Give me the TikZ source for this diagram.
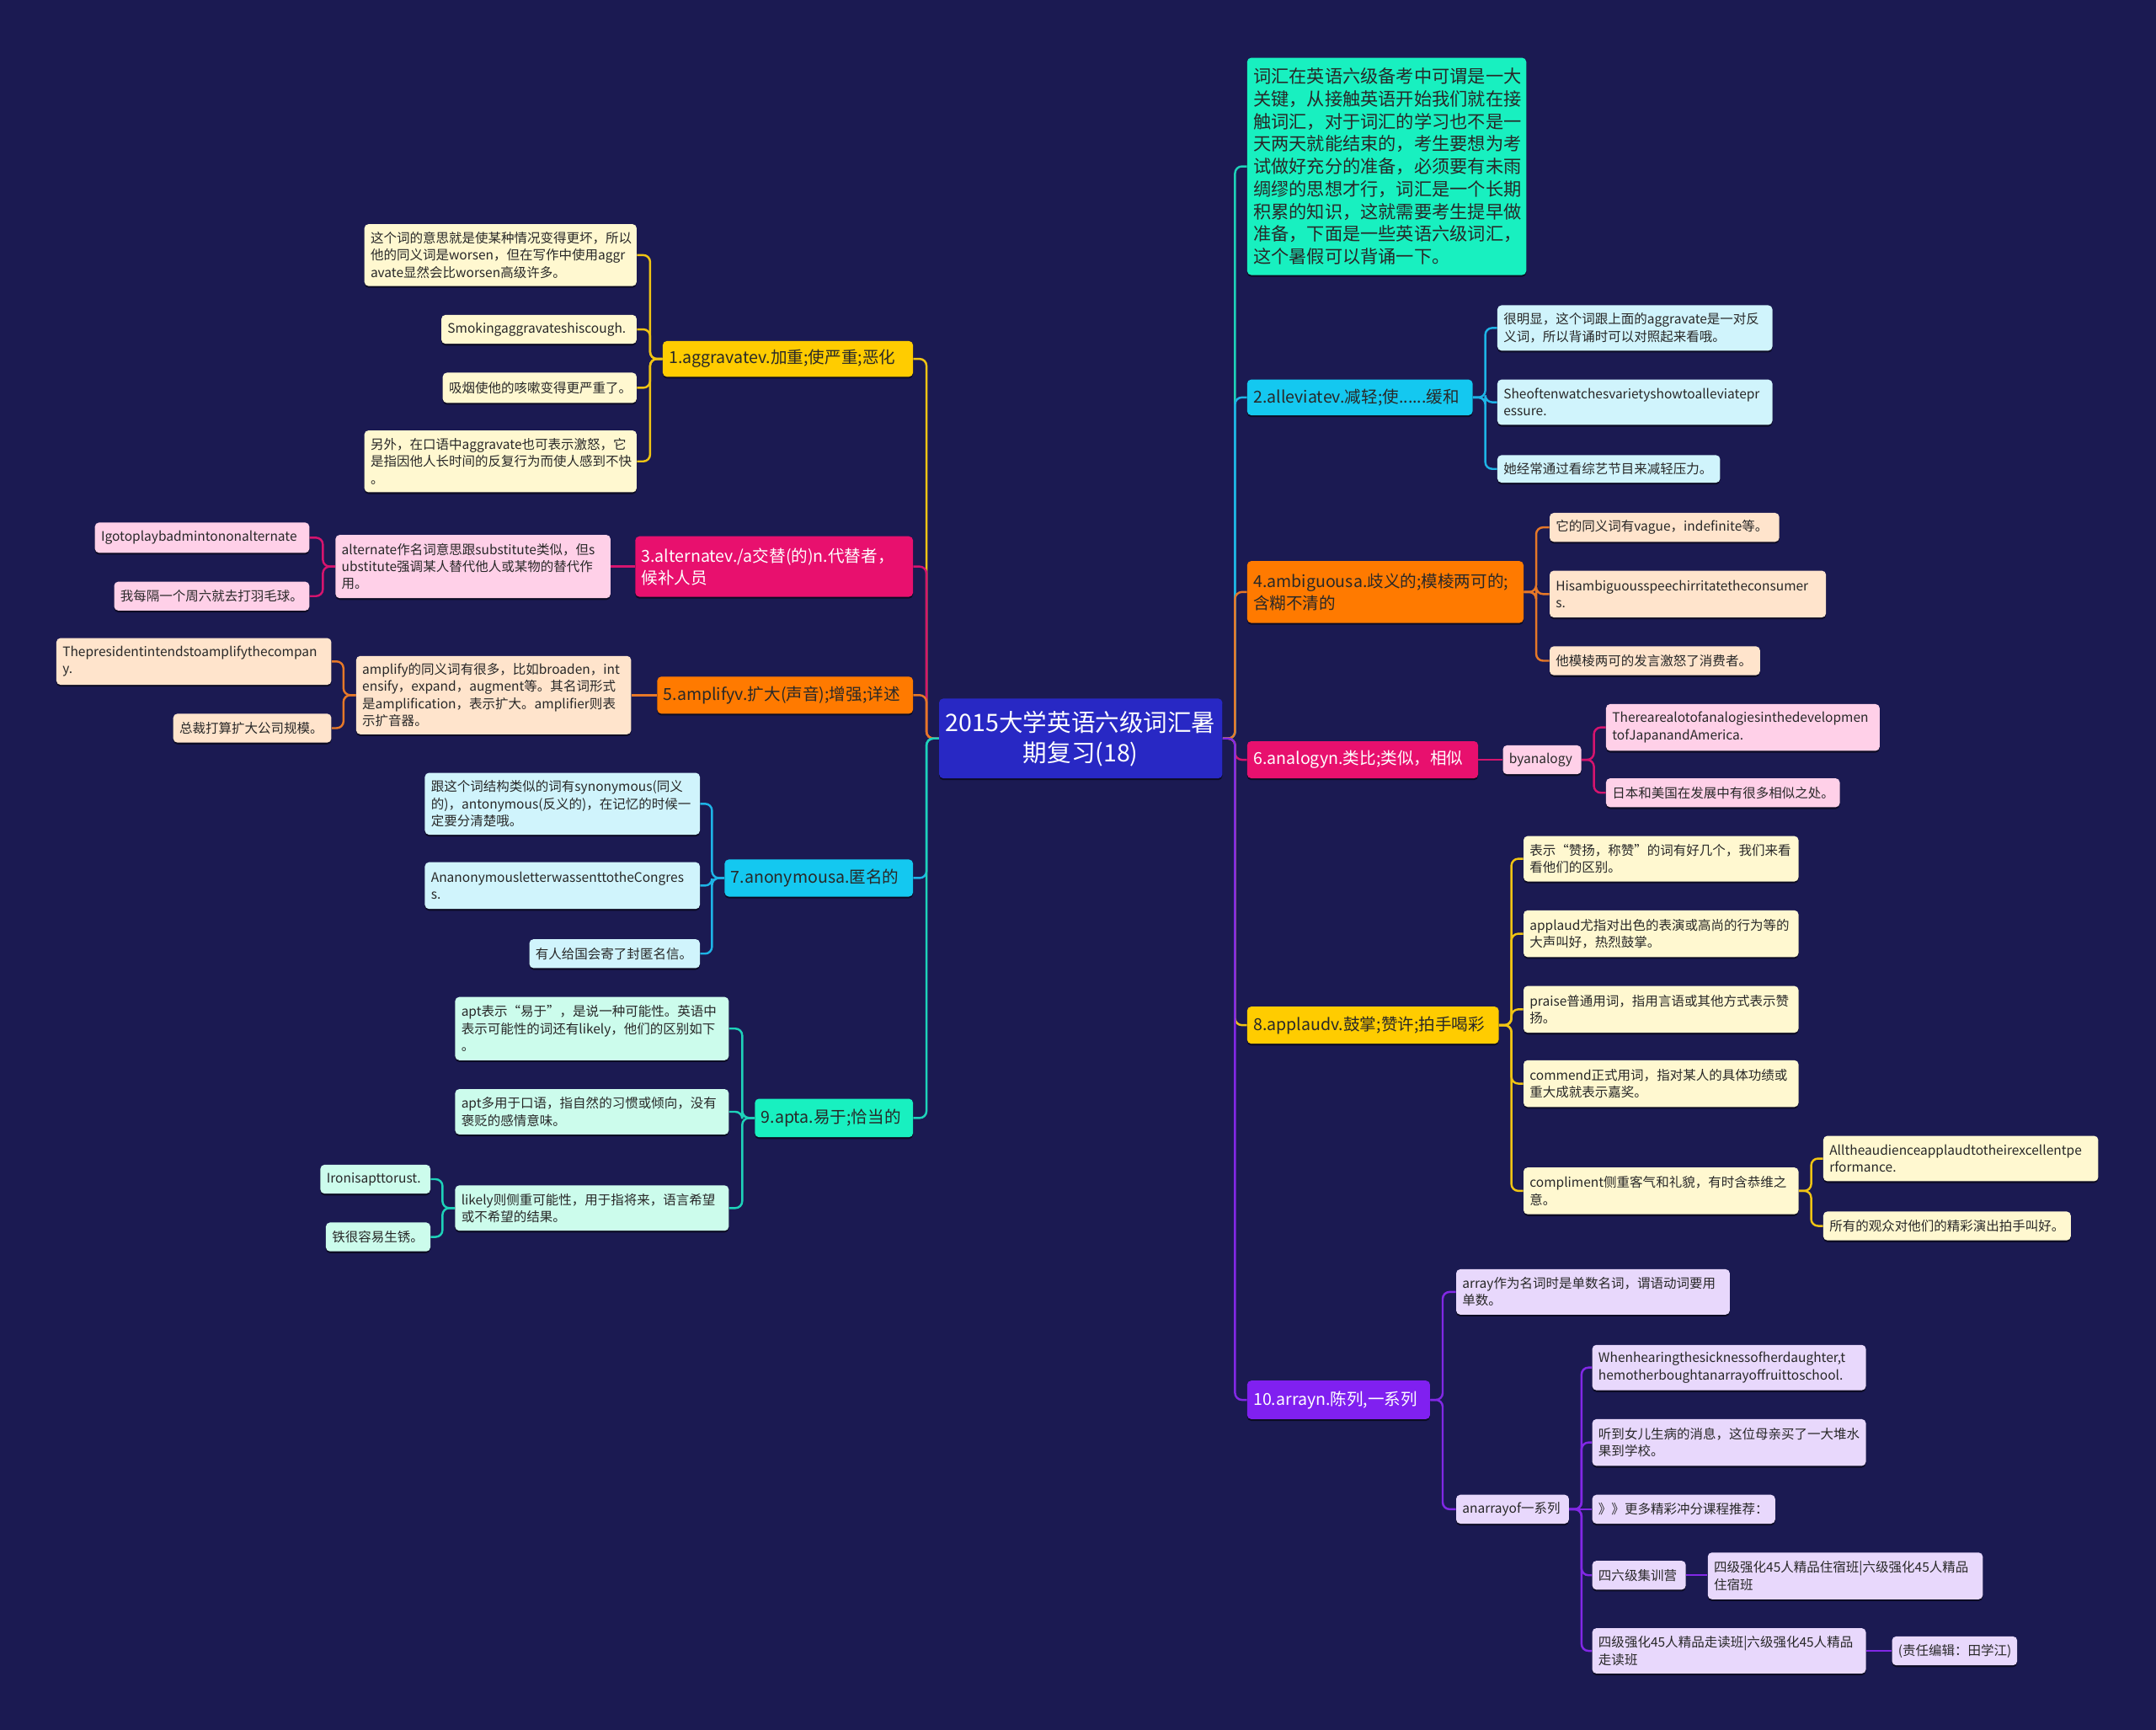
\documentclass[tikz,border=0pt]{standalone}
\usepackage{fontspec}
\setmainfont{Noto Sans CJK SC}
\usetikzlibrary{shadows}
\pgfdeclarelayer{bg}\pgfsetlayers{bg,main}
\definecolor{bgc}{RGB}{27,26,82}
\definecolor{rootc}{RGB}{40,40,196}
\definecolor{darktext}{RGB}{40,40,40}
\definecolor{ybr}{RGB}{255,204,0}\definecolor{ylf}{RGB}{255,248,208}\definecolor{ycl}{RGB}{240,196,20}
\definecolor{mbr}{RGB}{232,16,110}\definecolor{mlf}{RGB}{255,208,232}\definecolor{mcl}{RGB}{214,20,110}
\definecolor{obr}{RGB}{255,122,0}\definecolor{olf}{RGB}{255,228,204}\definecolor{ocl}{RGB}{230,120,40}
\definecolor{cbr}{RGB}{20,200,240}\definecolor{clf}{RGB}{208,244,252}\definecolor{ccl}{RGB}{30,180,230}
\definecolor{abr}{RGB}{24,240,192}\definecolor{alf}{RGB}{204,252,236}\definecolor{acl}{RGB}{30,210,185}
\definecolor{pbr}{RGB}{128,32,240}\definecolor{plf}{RGB}{232,216,252}\definecolor{pcl}{RGB}{130,40,230}
\newcommand\mybox[7]{%
  \pgfmathsetmacro\bxw{#4-#2}%
  \pgfmathsetmacro\bxh{#5-#3}%
  \pgfmathsetmacro\bxtw{#4-#2-9}%
  \pgfmathsetmacro\bxcx{(#2+#4)/2}%
  \pgfmathsetmacro\bxcy{(#3+#5)/2}%
  \node[#6, minimum width=\bxw pt, minimum height=\bxh pt, text width=\bxtw pt] (#1) at (\bxcx,\bxcy) {#7};}
\newcommand\connL[3]{\draw[conn,#1] (#2.west) -- ++(-9,0) |- (#3.east);}
\newcommand\connR[3]{\draw[conn,#1] (#2.east) -- ++(9,0) |- (#3.west);}
\newcommand\connSL[3]{\draw[conn,#1] (#2.west) -- (#3.east |- #2.west);}
\newcommand\connSR[3]{\draw[conn,#1] (#2.east) -- (#3.west |- #2.east);}
\begin{document}
\begin{tikzpicture}[x=1pt,y=-1pt,
  basebox/.style={rounded corners=3pt, inner xsep=4.5pt, inner ysep=0pt, align=left,
    drop shadow={shadow xshift=0pt,shadow yshift=-1.3pt,opacity=.55,fill=black}},
  leaf/.style={basebox, text=darktext, font=\fontsize{9.5}{12.5}\selectfont},
  branch/.style={basebox, text=darktext, font=\fontsize{12}{16}\selectfont},
  wbranch/.style={branch, text=white},
  rootbox/.style={basebox, align=center, text=white, fill=rootc, font=\fontsize{17.5}{22}\selectfont},
  intro/.style={basebox, text=darktext, fill=abr, font=\fontsize{13}{16.4}\selectfont},
  conn/.style={line width=1.5pt, rounded corners=5pt}]
\useasboundingbox (0,0) rectangle (1568,1258);
% root
\mybox{root}{683}{508}{889}{566}{rootbox}{2015大学英语六级词汇暑\\期复习(18)}
% left branches
\mybox{b1}{482}{248}{664}{274}{branch,fill=ybr}{1.aggravatev.加重;使严重;恶化}
\mybox{b3}{462}{390}{664}{434}{wbranch,fill=mbr}{3.alternatev./a交替(的)n.代替者，\\候补人员}
\mybox{b5}{478}{492}{664}{519}{branch,fill=obr}{5.amplifyv.扩大(声音);增强;详述}
\mybox{b7}{527}{625}{664}{652}{branch,fill=cbr}{7.anonymousa.匿名的}
\mybox{b9}{549}{799}{664}{827}{branch,fill=abr}{9.apta.易于;恰当的}
% right branches
\mybox{intro}{907}{42}{1110}{200}{intro}{词汇在英语六级备考中可谓是一大\\关键，从接触英语开始我们就在接\\触词汇，对于词汇的学习也不是一\\天两天就能结束的，考生要想为考\\试做好充分的准备，必须要有未雨\\绸缪的思想才行，词汇是一个长期\\积累的知识，这就需要考生提早做\\准备，下面是一些英语六级词汇，\\这个暑假可以背诵一下。}
\mybox{b2}{907}{276}{1071}{302}{branch,fill=cbr}{2.alleviatev.减轻;使......缓和}
\mybox{b4}{907}{408}{1108}{453}{branch,fill=obr}{4.ambiguousa.歧义的;模棱两可的;\\含糊不清的}
\mybox{b6}{907}{539}{1075}{566}{wbranch,fill=mbr}{6.analogyn.类比;类似，相似}
\mybox{b8}{907}{732}{1090}{759}{branch,fill=ybr}{8.applaudv.鼓掌;赞许;拍手喝彩}
\mybox{b10}{907}{1004}{1040}{1032}{wbranch,fill=pbr}{10.arrayn.陈列,一系列}
% group 1
\mybox{l1a}{265}{163}{463}{208}{leaf,fill=ylf}{这个词的意思就是使某种情况变得更坏，所以\\他的同义词是worsen，但在写作中使用aggr\\avate显然会比worsen高级许多。}
\mybox{l1b}{321}{229}{463}{250}{leaf,fill=ylf}{Smokingaggravateshiscough.}
\mybox{l1c}{322}{271}{463}{293}{leaf,fill=ylf}{吸烟使他的咳嗽变得更严重了。}
\mybox{l1d}{265}{313}{463}{358}{leaf,fill=ylf}{另外，在口语中aggravate也可表示激怒，它\\是指因他人长时间的反复行为而使人感到不快\\。}
% group 3
\mybox{l3a}{244}{389}{444}{435}{leaf,fill=mlf}{alternate作名词意思跟substitute类似，但s\\ubstitute强调某人替代他人或某物的替代作\\用。}
\mybox{l3b}{69}{380}{225}{402}{leaf,fill=mlf}{Igotoplaybadmintononalternate}
\mybox{l3c}{83}{423}{225}{444}{leaf,fill=mlf}{我每隔一个周六就去打羽毛球。}
% group 5
\mybox{l5a}{259}{477}{459}{534}{leaf,fill=olf}{amplify的同义词有很多，比如broaden，int\\ensify，expand，augment等。其名词形式\\是amplification，表示扩大。amplifier则表\\示扩音器。}
\mybox{l5b}{41}{464}{241}{498}{leaf,fill=olf}{Thepresidentintendstoamplifythecompan\\y.}
\mybox{l5c}{126}{519}{241}{540}{leaf,fill=olf}{总裁打算扩大公司规模。}
% group 7
\mybox{l7a}{309}{562}{509}{607}{leaf,fill=clf}{跟这个词结构类似的词有synonymous(同义\\的)，antonymous(反义的)，在记忆的时候一\\定要分清楚哦。}
\mybox{l7b}{309}{627}{509}{661}{leaf,fill=clf}{AnanonymousletterwassenttotheCongres\\s.}
\mybox{l7c}{385}{683}{509}{704}{leaf,fill=clf}{有人给国会寄了封匿名信。}
% group 9
\mybox{l9a}{331}{725}{530}{771}{leaf,fill=alf}{apt表示“易于”，是说一种可能性。英语中\\表示可能性的词还有likely，他们的区别如下\\。}
\mybox{l9b}{331}{792}{530}{825}{leaf,fill=alf}{apt多用于口语，指自然的习惯或倾向，没有\\褒贬的感情意味。}
\mybox{l9c}{331}{862}{530}{895}{leaf,fill=alf}{likely则侧重可能性，用于指将来，语言希望\\或不希望的结果。}
\mybox{l9d}{233}{847}{313}{868}{leaf,fill=alf}{Ironisapttorust.}
\mybox{l9e}{237}{889}{313}{910}{leaf,fill=alf}{铁很容易生锈。}
% group 2
\mybox{l2a}{1089}{222}{1289}{255}{leaf,fill=clf}{很明显，这个词跟上面的aggravate是一对反\\义词，所以背诵时可以对照起来看哦。}
\mybox{l2b}{1089}{276}{1289}{309}{leaf,fill=clf}{Sheoftenwatchesvarietyshowtoalleviatepr\\essure.}
\mybox{l2c}{1089}{331}{1251}{351}{leaf,fill=clf}{她经常通过看综艺节目来减轻压力。}
% group 4
\mybox{l4a}{1127}{373}{1294}{394}{leaf,fill=olf}{它的同义词有vague，indefinite等。}
\mybox{l4b}{1127}{415}{1328}{449}{leaf,fill=olf}{Hisambiguousspeechirritatetheconsumer\\s.}
\mybox{l4c}{1127}{470}{1280}{491}{leaf,fill=olf}{他模棱两可的发言激怒了消费者。}
% group 6
\mybox{l6a}{1093}{542}{1150}{563}{leaf,fill=mlf}{byanalogy}
\mybox{l6b}{1168}{512}{1367}{546}{leaf,fill=mlf}{Therearealotofanalogiesinthedevelopmen\\tofJapanandAmerica.}
\mybox{l6c}{1168}{566}{1338}{587}{leaf,fill=mlf}{日本和美国在发展中有很多相似之处。}
% group 8
\mybox{l8a}{1108}{608}{1308}{641}{leaf,fill=ylf}{表示“赞扬，称赞”的词有好几个，我们来看\\看他们的区别。}
\mybox{l8b}{1108}{662}{1308}{696}{leaf,fill=ylf}{applaud尤指对出色的表演或高尚的行为等的\\大声叫好，热烈鼓掌。}
\mybox{l8c}{1108}{717}{1308}{751}{leaf,fill=ylf}{praise普通用词，指用言语或其他方式表示赞\\扬。}
\mybox{l8d}{1108}{771}{1308}{805}{leaf,fill=ylf}{commend正式用词，指对某人的具体功绩或\\重大成就表示嘉奖。}
\mybox{l8e}{1108}{849}{1308}{883}{leaf,fill=ylf}{compliment侧重客气和礼貌，有时含恭维之\\意。}
\mybox{l8f}{1326}{826}{1526}{859}{leaf,fill=ylf}{Alltheaudienceapplaudtotheirexcellentpe\\rformance.}
\mybox{l8g}{1326}{881}{1506}{902}{leaf,fill=ylf}{所有的观众对他们的精彩演出拍手叫好。}
% group 10
\mybox{l10a}{1059}{923}{1258}{956}{leaf,fill=plf}{array作为名词时是单数名词，谓语动词要用\\单数。}
\mybox{l10b}{1059}{1087}{1141}{1108}{leaf,fill=plf}{anarrayof一系列}
\mybox{l10c}{1158}{978}{1357}{1011}{leaf,fill=plf}{Whenhearingthesicknessofherdaughter,t\\hemotherboughtanarrayoffruittoschool.}
\mybox{l10d}{1158}{1032}{1357}{1066}{leaf,fill=plf}{听到女儿生病的消息，这位母亲买了一大堆水\\果到学校。}
\mybox{l10e}{1158}{1087}{1291}{1108}{leaf,fill=plf}{》》更多精彩冲分课程推荐：}
\mybox{l10f}{1158}{1135}{1226}{1156}{leaf,fill=plf}{四六级集训营}
\mybox{l10g}{1242}{1129}{1442}{1163}{leaf,fill=plf}{四级强化45人精品住宿班|六级强化45人精品\\住宿班}
\mybox{l10h}{1158}{1184}{1357}{1217}{leaf,fill=plf}{四级强化45人精品走读班|六级强化45人精品\\走读班}
\mybox{l10i}{1376}{1190}{1467}{1211}{leaf,fill=plf}{(责任编辑：田学江)}
\begin{pgfonlayer}{bg}
\fill[bgc] (0,0) rectangle (1568,1258);
% root to left
\connL{ycl}{root}{b1}\connL{mcl}{root}{b3}\connL{ocl}{root}{b5}\connL{ccl}{root}{b7}\connL{acl}{root}{b9}
% root to right
\connR{acl}{root}{intro}\connR{ccl}{root}{b2}\connR{ocl}{root}{b4}\connR{mcl}{root}{b6}\connR{ycl}{root}{b8}\connR{pcl}{root}{b10}
% left groups
\connL{ycl}{b1}{l1a}\connL{ycl}{b1}{l1b}\connL{ycl}{b1}{l1c}\connL{ycl}{b1}{l1d}
\connSL{mcl}{b3}{l3a}\connL{mcl}{l3a}{l3b}\connL{mcl}{l3a}{l3c}
\connSL{ocl}{b5}{l5a}\connL{ocl}{l5a}{l5b}\connL{ocl}{l5a}{l5c}
\connL{ccl}{b7}{l7a}\connL{ccl}{b7}{l7b}\connL{ccl}{b7}{l7c}
\connL{acl}{b9}{l9a}\connL{acl}{b9}{l9b}\connL{acl}{b9}{l9c}\connL{acl}{l9c}{l9d}\connL{acl}{l9c}{l9e}
% right groups
\connR{ccl}{b2}{l2a}\connR{ccl}{b2}{l2b}\connR{ccl}{b2}{l2c}
\connR{ocl}{b4}{l4a}\connR{ocl}{b4}{l4b}\connR{ocl}{b4}{l4c}
\connSR{mcl}{b6}{l6a}\connR{mcl}{l6a}{l6b}\connR{mcl}{l6a}{l6c}
\connR{ycl}{b8}{l8a}\connR{ycl}{b8}{l8b}\connR{ycl}{b8}{l8c}\connR{ycl}{b8}{l8d}\connR{ycl}{b8}{l8e}
\connR{ycl}{l8e}{l8f}\connR{ycl}{l8e}{l8g}
\connR{pcl}{b10}{l10a}\connR{pcl}{b10}{l10b}
\connR{pcl}{l10b}{l10c}\connR{pcl}{l10b}{l10d}\connSR{pcl}{l10b}{l10e}\connR{pcl}{l10b}{l10f}\connR{pcl}{l10b}{l10h}
\connSR{pcl}{l10f}{l10g}\connSR{pcl}{l10h}{l10i}
\end{pgfonlayer}
\end{tikzpicture}
\end{document}
